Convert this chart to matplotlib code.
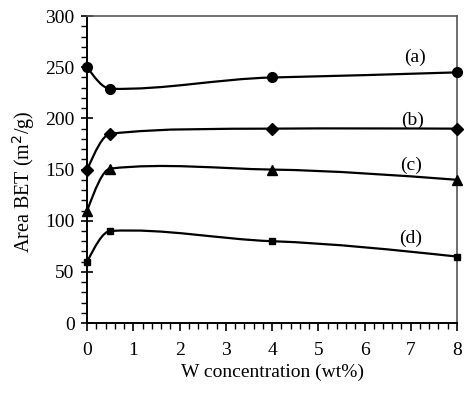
import numpy as np
import matplotlib
matplotlib.use('Agg')
import matplotlib.pyplot as plt
from matplotlib.path import Path
from matplotlib.patches import PathPatch
from matplotlib.ticker import MultipleLocator

plt.rcParams['font.family'] = ['Liberation Serif', 'DejaVu Serif']

# W loading (wt%) and BET area (m2/g)
w_conc = [0, 0.5, 4, 8]
area_a = [250, 229, 240, 245]
area_b = [150, 185, 190, 190]
area_c = [110, 151, 150, 140]
area_d = [60, 90, 80, 65]
labels = ['(a)', '(b)', '(c)', '(d)']
label_x = [7.1, 7.05, 7.0, 7.0]
label_y = [260, 198, 154, 83]


def smooth_path(x, y):
    # cubic hermite through the points, written as bezier segments
    x = np.asarray(x, float)
    y = np.asarray(y, float)
    n = len(x)
    slope = np.zeros(n)
    for i in range(1, n - 1):
        slope[i] = 0.5 * (y[i + 1] - y[i - 1]) / (x[i + 1] - x[i - 1])
    d0 = (y[1] - y[0]) / (x[1] - x[0])
    dn = (y[-1] - y[-2]) / (x[-1] - x[-2])
    slope[0] = 1.5 * d0 - 0.5 * slope[1]
    slope[-1] = 1.5 * dn - 0.5 * slope[-2]
    verts = [(x[0], y[0])]
    codes = [Path.MOVETO]
    for i in range(n - 1):
        h = (x[i + 1] - x[i]) / 3.0
        verts += [(x[i] + h, y[i] + slope[i] * h),
                  (x[i + 1] - h, y[i + 1] - slope[i + 1] * h),
                  (x[i + 1], y[i + 1])]
        codes += [Path.CURVE4] * 3
    return Path(verts, codes)


fig = plt.figure(figsize=(4.74, 3.93), dpi=100)
ax = fig.add_axes([0.184, 0.178, 0.78, 0.781])

series = [(area_a, 'o', 7), (area_b, 'D', 6.5), (area_c, '^', 7), (area_d, 's', 5)]
for (vals, mk, ms), lab, lx, ly in zip(series, labels, label_x, label_y):
    ax.add_patch(PathPatch(smooth_path(w_conc, vals), facecolor='none',
                           edgecolor='black', lw=1.6, zorder=2, clip_on=False))
    ax.plot(w_conc, vals, linestyle='none', marker=mk, ms=ms, color='black',
            zorder=3, clip_on=False)
    ax.text(lx, ly, lab, fontsize=14, ha='center', va='center')

ax.set_xlim(0, 8)
ax.set_ylim(0, 300)
ax.xaxis.set_major_locator(MultipleLocator(1))
ax.xaxis.set_minor_locator(MultipleLocator(0.2))
ax.yaxis.set_major_locator(MultipleLocator(50))
ax.yaxis.set_minor_locator(MultipleLocator(10))

ax.tick_params(axis='both', which='major', labelsize=14, direction='out',
               length=6, width=1.2, colors='black')
ax.tick_params(axis='x', which='major', pad=8)
ax.tick_params(axis='y', which='major', pad=5, direction='inout', length=8)
ax.tick_params(axis='both', which='minor', direction='out', length=4, width=1.0)

for s in ['left', 'bottom']:
    ax.spines[s].set_linewidth(1.4)
    ax.spines[s].set_color('black')
for s in ['top', 'right']:
    ax.spines[s].set_linewidth(1.2)
    ax.spines[s].set_color('#555555')

ax.set_xlabel('W concentration (wt%)', fontsize=14, labelpad=3)
ax.set_ylabel('Area BET (m$^2$/g)', fontsize=14.5)
ax.yaxis.set_label_coords(-0.135, 0.46)

fig.savefig('out.png', dpi=100)
